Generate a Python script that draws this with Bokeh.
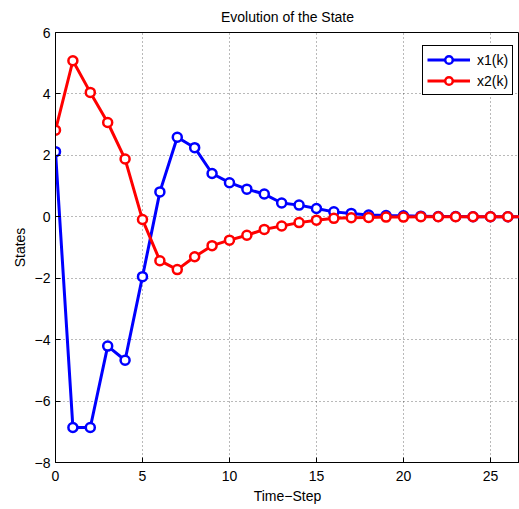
from bokeh.plotting import figure
from bokeh.models import Range1d, FixedTicker, Legend, LegendItem
from bokeh.embed import file_html
from bokeh.resources import INLINE

# ---- data ----
steps = list(range(28))
x1 = [2.12, -6.86, -6.86, -4.21, -4.67, -1.95, 0.81, 2.59, 2.25, 1.41,
      1.11, 0.90, 0.74, 0.45, 0.38, 0.27, 0.16, 0.11, 0.06, 0.04,
      0.03, 0.02, 0.01, 0.01, 0.00, 0.00, 0.00, 0.00]
x2 = [2.82, 5.08, 4.05, 3.07, 1.88, -0.09, -1.43, -1.72, -1.30, -0.94,
      -0.76, -0.60, -0.41, -0.30, -0.19, -0.11, -0.05, -0.03, -0.02, -0.01,
      -0.01, 0.00, 0.00, 0.00, 0.00, 0.00, 0.00, 0.00]
series_names = ["x1(k)", "x2(k)"]
series_colors = ["#0000ff", "#ff0000"]
x_ticks = [0, 5, 10, 15, 20, 25]
y_ticks = [-8, -6, -4, -2, 0, 2, 4, 6]
y_tick_labels = {t: ("\u2212" + str(-t) if t < 0 else str(t)) for t in y_ticks}
title_text = "Evolution of the State"

FONT = "Liberation Sans"

p = figure(frame_width=464, frame_height=430,
           output_backend="svg", toolbar_location=None,
           x_range=Range1d(0, 26.67), y_range=Range1d(-8, 6),
           min_border_left=55, min_border_right=0,
           min_border_top=32, min_border_bottom=47,
           title=title_text)

p.title.align = "center"
p.title.vertical_align = "top"
p.title.standoff = 12
p.title.text_font = FONT
p.title.text_font_size = "14px"
p.title.text_font_style = "normal"
p.title.text_color = "#000000"

p.outline_line_color = "#000000"
p.outline_line_width = 1
p.outline_line_alpha = 1

for ax in (p.xaxis[0], p.yaxis[0]):
    ax.axis_line_color = "#000000"
    ax.major_tick_line_color = "#000000"
    ax.major_tick_in = 5
    ax.major_tick_out = 0
    ax.minor_tick_line_color = None
    ax.major_label_text_font = FONT
    ax.major_label_text_font_size = "14px"
    ax.major_label_text_color = "#000000"
    ax.axis_label_text_font = FONT
    ax.axis_label_text_font_size = "14px"
    ax.axis_label_text_font_style = "normal"
    ax.axis_label_text_color = "#000000"

p.xaxis.ticker = FixedTicker(ticks=x_ticks)
p.yaxis.ticker = FixedTicker(ticks=y_ticks)
p.yaxis.major_label_overrides = y_tick_labels
p.xaxis.axis_label = "Time\u2212Step"
p.yaxis.axis_label = "States"
p.xaxis.major_label_standoff = 8
p.yaxis.major_label_standoff = 5
p.xaxis.axis_label_standoff = 4
p.yaxis.axis_label_standoff = 4

p.grid.grid_line_color = "#000000"
p.grid.grid_line_alpha = 0.55
p.grid.grid_line_dash = "1 3"
p.grid.grid_line_width = 1

items = []
for ys, name, col in zip([x1, x2], series_names, series_colors):
    r_line = p.line(steps, ys, line_color=col, line_width=3)
    r_pts = p.scatter(steps, ys, marker="circle", size=9, line_color=col,
                      line_width=2.5, fill_color="white")
    items.append(LegendItem(label=name, renderers=[r_line, r_pts]))

legend = Legend(items=items, location=(367, 367))
legend.label_text_font = FONT
legend.label_text_font_size = "14px"
legend.label_text_color = "#000000"
legend.border_line_color = "#000000"
legend.border_line_width = 1
legend.border_line_alpha = 1
legend.background_fill_color = "white"
legend.background_fill_alpha = 1
legend.padding = 4
legend.margin = 0
legend.spacing = 2
legend.glyph_width = 43
legend.glyph_height = 19
legend.label_height = 19
legend.label_standoff = 7
p.add_layout(legend)

open("out.html", "w").write(file_html(p, INLINE))
